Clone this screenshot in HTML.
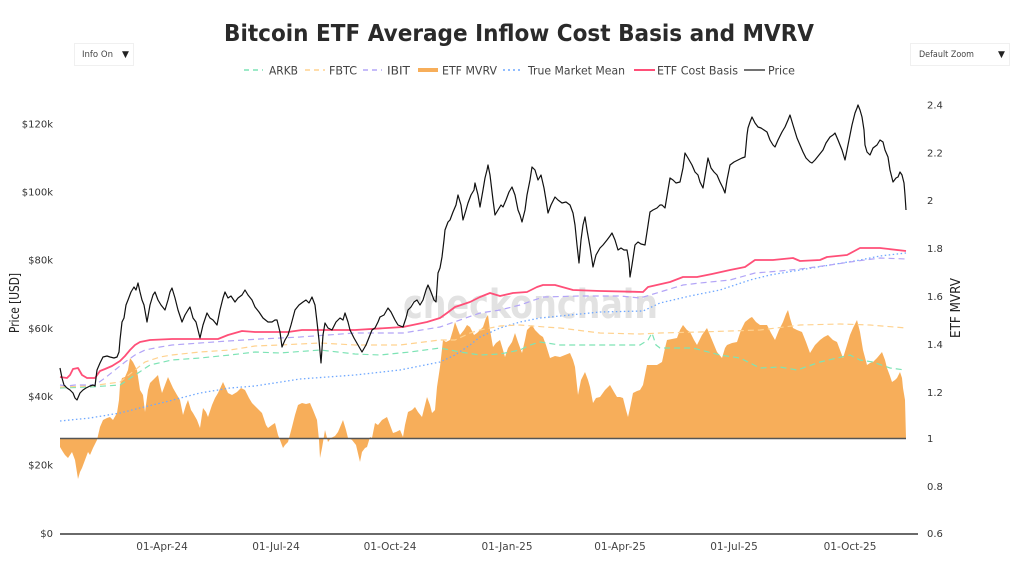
<!DOCTYPE html>
<html><head><meta charset="utf-8"><style>
html,body{margin:0;padding:0;background:#fff;}
svg{display:block;}
text{font-family:"DejaVu Sans","Liberation Sans",sans-serif;}
</style></head><body>
<svg width="1024" height="580" viewBox="0 0 1024 580" xmlns="http://www.w3.org/2000/svg">
<rect width="1024" height="580" fill="#fff"/>
<!-- title -->
<text x="224" y="41" font-size="23" font-weight="bold" fill="#2a2a2a" textLength="590" lengthAdjust="spacingAndGlyphs">Bitcoin ETF Average Inflow Cost Basis and MVRV</text>
<!-- dropdowns -->
<rect x="74.5" y="43.5" width="59" height="22" fill="#fff" stroke="#f0f0f0"/>
<text x="82" y="57" font-size="9" fill="#444" textLength="31" lengthAdjust="spacingAndGlyphs">Info On</text>
<text x="122" y="57" font-size="9" fill="#222">▼</text>
<rect x="910.5" y="43.5" width="99" height="22" fill="#fff" stroke="#f0f0f0"/>
<text x="919" y="57" font-size="9" fill="#444" textLength="55" lengthAdjust="spacingAndGlyphs">Default Zoom</text>
<text x="998" y="57" font-size="9" fill="#222">▼</text>
<!-- legend -->
<g font-size="11.5" fill="#444">
<line x1="244" y1="70" x2="263" y2="70" stroke="#7de3b5" stroke-width="1.5" stroke-dasharray="5,4"/>
<text x="269" y="74.5" textLength="29" lengthAdjust="spacingAndGlyphs">ARKB</text>
<line x1="305" y1="70" x2="325" y2="70" stroke="#ffd28f" stroke-width="1.5" stroke-dasharray="5,4"/>
<text x="329" y="74.5" textLength="28" lengthAdjust="spacingAndGlyphs">FBTC</text>
<line x1="363" y1="70" x2="382" y2="70" stroke="#b3a5f7" stroke-width="1.5" stroke-dasharray="5,4"/>
<text x="387" y="74.5" textLength="23" lengthAdjust="spacingAndGlyphs">IBIT</text>
<line x1="418" y1="70" x2="438" y2="70" stroke="#f7ae5a" stroke-width="4"/>
<text x="442" y="74.5" textLength="55" lengthAdjust="spacingAndGlyphs">ETF MVRV</text>
<line x1="503" y1="70" x2="522" y2="70" stroke="#6fa8ff" stroke-width="1.5" stroke-dasharray="2,3"/>
<text x="528" y="74.5" textLength="97" lengthAdjust="spacingAndGlyphs">True Market Mean</text>
<line x1="634" y1="70" x2="655" y2="70" stroke="#ff4f78" stroke-width="2"/>
<text x="657" y="74.5" textLength="81" lengthAdjust="spacingAndGlyphs">ETF Cost Basis</text>
<line x1="744" y1="70" x2="765" y2="70" stroke="#444" stroke-width="1.5"/>
<text x="768" y="74.5" textLength="27" lengthAdjust="spacingAndGlyphs">Price</text>
</g>
<!-- axis labels left -->
<g font-size="10" fill="#333" text-anchor="end">
<text x="53" y="127.5">$120k</text>
<text x="53" y="195.5">$100k</text>
<text x="53" y="263.5">$80k</text>
<text x="53" y="332">$60k</text>
<text x="53" y="400">$40k</text>
<text x="53" y="468.5">$20k</text>
<text x="53" y="537">$0</text>
</g>
<text transform="translate(19,303) rotate(-90)" font-size="13" fill="#222" text-anchor="middle" textLength="60" lengthAdjust="spacingAndGlyphs">Price [USD]</text>
<!-- axis labels right -->
<g font-size="10" fill="#333">
<text x="927" y="108.5">2.4</text>
<text x="927" y="156.5">2.2</text>
<text x="927" y="204">2</text>
<text x="927" y="252">1.8</text>
<text x="927" y="300">1.6</text>
<text x="927" y="348">1.4</text>
<text x="927" y="396">1.2</text>
<text x="927" y="442">1</text>
<text x="927" y="490">0.8</text>
<text x="927" y="537">0.6</text>
</g>
<text transform="translate(960,308) rotate(-90)" font-size="13" fill="#222" text-anchor="middle" textLength="60" lengthAdjust="spacingAndGlyphs">ETF MVRV</text>
<!-- x labels -->
<g font-size="10.5" fill="#444" text-anchor="middle">
<text x="162" y="550">01-Apr-24</text>
<text x="276" y="550">01-Jul-24</text>
<text x="390" y="550">01-Oct-24</text>
<text x="507" y="550">01-Jan-25</text>
<text x="620" y="550">01-Apr-25</text>
<text x="734" y="550">01-Jul-25</text>
<text x="850" y="550">01-Oct-25</text>
</g>
<!-- watermark -->
<text x="403" y="318" font-size="40" font-weight="bold" fill="#e2e2e2" textLength="255" lengthAdjust="spacingAndGlyphs">checkonchain</text>
<!-- MVRV area -->
<path fill="#f7ae5a" d="M60,438.5 L60,447 63,452 65,455 68,458 72,452 75,460 78,479 80,472 82,468 85,460 88,452 90,455 93,448 97,440 100,427 103,420 107,418 110,417 113,420 117,413 119,400 120,385 122,378 125,377 128,370 130,358 133,362 135,366 137,370 140,390 143,395 145,412 148,390 150,383 153,380 158,375 160,385 162,393 165,385 168,377 173,388 177,395 180,400 183,415 186,405 188,400 191,410 193,413 197,420 200,428 203,408 206,412 208,417 212,405 215,398 218,393 223,382 228,393 232,395 237,392 241,388 245,390 249,398 252,403 257,408 262,413 266,425 268,428 272,425 275,423 278,435 280,440 283,448 285,445 288,442 292,427 295,415 298,405 302,403 306,404 310,403 313,410 317,420 319,440 320,458 322,448 325,430 328,442 331,438 335,436 338,432 343,420 346,430 348,438 352,440 356,445 360,462 362,452 365,448 367,447 370,437 372,438 375,423 378,425 382,420 387,417 390,425 393,433 396,432 400,430 403,437 405,425 408,412 412,410 415,407 418,412 422,417 425,405 427,397 430,405 432,413 435,410 437,387 440,367 443,340 446,342 450,340 453,330 455,322 458,330 460,335 464,330 467,325 470,327 474,335 477,333 480,330 483,327 486,318 488,315 490,330 493,347 496,343 500,340 503,350 505,357 508,348 512,342 515,333 518,342 522,353 525,340 527,330 530,327 532,325 535,330 537,332 540,335 543,337 546,345 550,358 555,356 560,357 565,355 570,353 573,360 575,367 578,395 581,380 585,372 588,380 590,387 593,403 596,398 600,397 605,390 610,385 614,392 617,397 620,397 623,398 626,410 628,417 630,408 633,393 637,391 640,390 643,385 645,375 647,365 652,365 657,365 662,362 665,348 667,340 672,339 677,338 680,330 683,325 687,330 690,332 694,340 697,345 702,335 707,328 712,340 717,352 722,358 725,348 727,345 732,343 737,342 741,330 745,322 750,318 752,317 756,322 760,325 764,325 767,325 771,333 775,340 779,330 783,322 786,314 788,310 790,318 793,328 797,330 802,332 806,342 810,353 815,345 820,340 824,337 828,335 833,340 837,342 840,350 843,358 847,345 850,335 853,328 857,320 860,332 863,350 867,365 870,363 873,362 877,358 882,352 885,360 887,368 890,376 892,382 895,380 897,378 900,372 902,378 903,388 905,400 906,438.5 Z"/>
<!-- baseline MVRV=1 -->
<line x1="60" y1="438.5" x2="906" y2="438.5" stroke="#555" stroke-width="1.5"/>
<!-- x axis -->
<line x1="60" y1="534" x2="918" y2="534" stroke="#6a6a6a" stroke-width="2"/>
<!-- True Market Mean -->
<polyline fill="none" stroke="#6fa8ff" stroke-width="1.3" stroke-dasharray="1.5,2.5" points="60,421 90,418 120,413 140,408 165,402 200,393 230,388 255,386 300,379 355,375 400,370 420,366 440,362 455,355 470,345 480,337 500,328 520,322 540,318 560,316 600,312 643,311 660,303 690,296 720,290 750,280 770,275 800,270 830,265 860,260 880,256 906,253"/>
<!-- ARKB -->
<polyline fill="none" stroke="#7de3b5" stroke-width="1.2" stroke-dasharray="6,4" points="60,388 90,387 120,385 135,375 150,365 172,360 200,358 230,355 255,352 280,353 320,350 355,354 380,355 410,352 440,348 460,352 480,355 500,354 520,350 530,345 540,342 560,345 600,345 640,345 648,340 652,333 656,345 660,348 693,348 720,355 740,358 760,368 780,367 797,370 820,362 850,355 860,360 873,362 890,368 905,370"/>
<!-- FBTC -->
<polyline fill="none" stroke="#ffd28f" stroke-width="1.2" stroke-dasharray="6,4" points="60,387 90,386 120,382 135,370 145,362 160,357 172,355 200,352 230,350 255,346 280,345 320,343 355,345 400,345 440,340 455,340 470,333 480,330 500,326 520,325 545,327 560,328 600,333 640,334 660,333 700,332 730,331 760,330 800,325 840,324 870,325 906,328"/>
<!-- IBIT -->
<polyline fill="none" stroke="#b3a5f7" stroke-width="1.2" stroke-dasharray="6,4" points="60,385 67,386 75,385 95,385 105,378 115,370 125,362 135,355 145,350 160,347 172,345 200,343 228,341 260,339 300,337 355,333 403,333 440,327 460,320 480,313 500,310 520,305 543,297 580,296 620,296 640,298 660,292 683,285 700,283 730,280 755,273 780,271 800,269 830,265 850,262 880,258 906,259"/>
<!-- ETF Cost Basis -->
<polyline fill="none" stroke="#ff4f78" stroke-width="1.8" stroke-linejoin="round" points="60,377 67,378 70,375 73,369 78,368 82,375 87,378 95,378 100,371 105,369 112,366 120,361 125,356 130,350 135,345 140,342 150,340 172,339 218,339 228,335 242,331 255,332 288,332 302,330 355,330 403,327 427,322 440,318 447,313 455,307 470,302 480,297 490,293 500,296 513,293 527,292 537,287 543,285 555,285 573,290 600,291 643,292 648,287 670,282 683,277 697,277 712,274 730,270 745,267 755,260 773,260 793,258 800,261 820,260 827,257 847,255 860,248 880,248 906,251"/>
<!-- Price -->
<polyline fill="none" stroke="#111" stroke-width="1.2" stroke-linejoin="round" points="60,368 62,378 64,385 67,388 70,390 73,393 75,398 77,400 80,393 83,390 86,388 90,386 93,385 95,386 97,370 100,363 103,357 107,356 110,357 114,358 117,357 119,352 120,340 122,322 124,318 126,305 128,300 131,292 134,287 136,290 138,283 140,292 142,300 144,305 147,322 150,305 153,295 155,292 158,300 161,305 165,310 168,300 170,292 172,288 175,298 178,310 182,322 185,315 188,310 190,307 193,318 196,322 200,338 203,325 207,313 210,318 213,320 217,325 220,310 223,298 225,292 228,298 231,296 235,302 238,298 242,295 245,290 248,295 252,300 255,307 259,312 263,318 268,322 272,322 275,320 277,320 280,332 282,347 285,340 288,335 291,325 295,310 299,305 303,302 306,300 309,303 312,297 315,305 317,322 319,340 321,363 323,335 325,323 328,328 332,330 336,322 340,318 343,320 345,313 348,322 350,330 354,338 358,345 362,352 366,345 370,335 372,330 375,328 378,322 380,317 384,315 388,308 391,312 395,320 398,325 403,327 406,318 408,310 411,307 414,302 417,300 420,305 423,300 426,290 428,285 431,292 434,300 436,302 438,273 440,268 442,257 444,240 445,230 448,222 450,220 453,212 456,205 458,195 461,205 463,220 466,210 468,203 471,195 474,190 475,183 478,195 480,207 483,190 485,178 487,170 488,165 490,175 493,200 495,215 498,210 501,205 503,207 506,200 509,192 512,187 515,195 518,210 520,215 522,222 525,210 527,195 530,180 532,167 535,170 538,180 541,175 544,188 546,200 548,213 551,205 555,197 558,200 562,203 566,202 570,205 573,213 575,225 577,245 579,263 581,240 583,225 585,217 587,230 590,247 592,260 593,267 596,255 600,248 603,245 607,240 610,236 612,233 615,240 618,250 621,248 624,250 627,250 629,262 630,277 632,265 635,245 638,242 641,244 645,245 647,232 650,212 653,210 657,208 660,205 662,205 665,208 668,190 670,178 673,180 676,183 680,182 683,168 685,153 688,158 692,165 695,172 698,175 700,182 703,188 706,170 708,158 711,168 714,172 717,175 720,182 723,188 725,193 727,180 730,165 734,162 738,160 742,158 745,157 747,135 748,128 750,122 752,117 755,123 758,127 761,128 764,130 767,132 770,140 773,145 775,147 778,140 782,132 785,127 788,120 790,115 793,125 797,138 800,145 803,152 806,158 810,162 812,163 815,160 819,155 823,150 826,143 830,137 833,135 835,133 838,140 842,150 845,160 847,150 850,135 852,125 855,113 857,108 858,105 860,110 862,117 864,130 865,145 867,152 870,155 873,148 877,145 880,140 883,142 885,150 888,157 890,170 893,182 896,178 898,177 900,172 902,175 904,183 905,195 906,210"/>
</svg>
</body></html>
